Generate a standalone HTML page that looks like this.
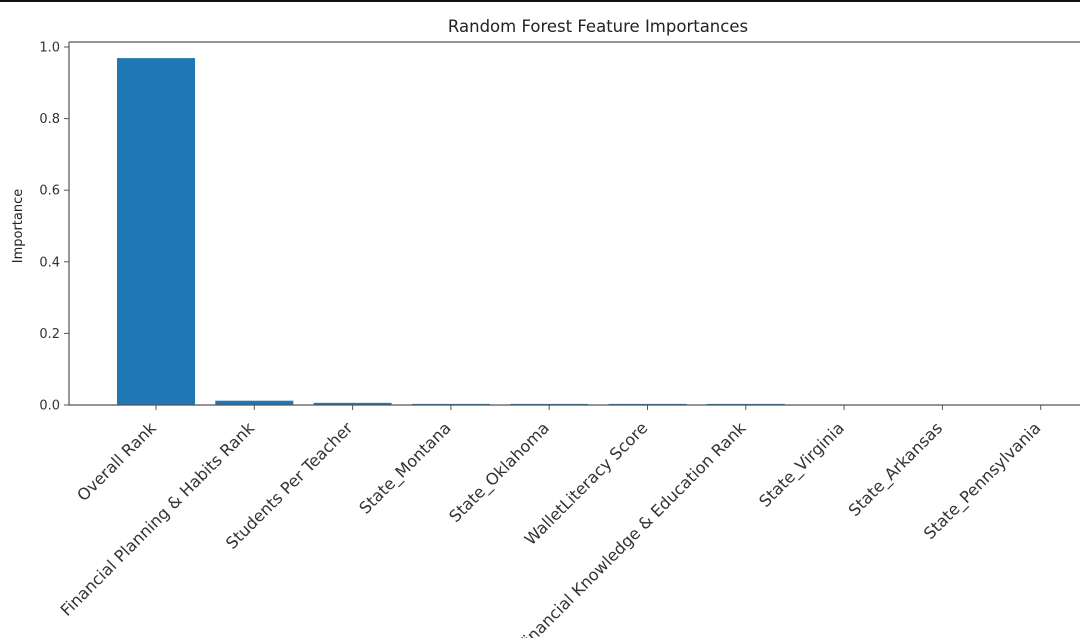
<!DOCTYPE html>
<html><head><meta charset="utf-8">
<style>
html,body{margin:0;padding:0;background:#fff;}
svg{display:block;font-family:"DejaVu Sans","Liberation Sans",sans-serif;}
</style></head>
<body>
<svg id="chart" width="1080" height="638" viewBox="0 0 1080 638">
<rect x="0" y="0" width="1080" height="2" fill="#111"/>
<text x="598" y="32" text-anchor="middle" font-size="16.5" fill="#222">Random Forest Feature Importances</text>
<text transform="translate(22,226) rotate(-90)" text-anchor="middle" font-size="13" fill="#222">Importance</text>
<g id="bars"></g>
<g id="yticks"></g>
<g id="xticks"></g>
<line x1="69" y1="42" x2="1080" y2="42" stroke="#555" stroke-width="1.2"/>
<line x1="69" y1="42" x2="69" y2="405" stroke="#555" stroke-width="1.2"/>
<line x1="69" y1="405" x2="1080" y2="405" stroke="#555" stroke-width="1.2"/>
</svg>
<script>
const categories = ["Overall Rank","Financial Planning & Habits Rank","Students Per Teacher","State_Montana","State_Oklahoma","WalletLiteracy Score","Financial Knowledge & Education Rank","State_Virginia","State_Arkansas","State_Pennsylvania"];
const importances = [0.969, 0.012, 0.006, 0.003, 0.003, 0.003, 0.003, 0.0005, 0.0003, 0.0002];
const yTickValues = [0.0, 0.2, 0.4, 0.6, 0.8, 1.0];
const yTickLabels = ["0.0","0.2","0.4","0.6","0.8","1.0"];

const NS = "http://www.w3.org/2000/svg";
const y0 = 405, yPerUnit = 358;
function yScale(v){ return y0 - v*yPerUnit; }
function xScale(i){ return 156 + i*98.3; }
const barW = 78;

const gb = document.getElementById('bars');
importances.forEach((v,i)=>{
  const r = document.createElementNS(NS,'rect');
  r.setAttribute('x', xScale(i)-barW/2);
  r.setAttribute('y', yScale(v));
  r.setAttribute('width', barW);
  r.setAttribute('height', Math.max(0, y0 - yScale(v)));
  r.setAttribute('fill', '#1f77b4');
  
  
  gb.appendChild(r);
});

const gy = document.getElementById('yticks');
yTickValues.forEach((v,i)=>{
  const y = yScale(v);
  const l = document.createElementNS(NS,'line');
  l.setAttribute('x1',64); l.setAttribute('x2',69);
  l.setAttribute('y1',y); l.setAttribute('y2',y);
  l.setAttribute('stroke','#555');
  
  
  gy.appendChild(l);
  const t = document.createElementNS(NS,'text');
  t.setAttribute('x',60); t.setAttribute('y',y+4.5);
  t.setAttribute('text-anchor','end');
  t.setAttribute('font-size','13');
  t.setAttribute('fill','#333');
  t.textContent = yTickLabels[i];
  
  
  gy.appendChild(t);
});

const gx = document.getElementById('xticks');
categories.forEach((c,i)=>{
  const x = xScale(i);
  const l = document.createElementNS(NS,'line');
  l.setAttribute('x1',x); l.setAttribute('x2',x);
  l.setAttribute('y1',405); l.setAttribute('y2',410);
  l.setAttribute('stroke','#555');
  
  
  gx.appendChild(l);
  const t = document.createElementNS(NS,'text');
  t.setAttribute('transform','translate('+(x+1)+',429) rotate(-45)');
  t.setAttribute('text-anchor','end');
  t.setAttribute('font-size','16.2');
  t.setAttribute('fill','#333');
  t.textContent = c;
  
  
  gx.appendChild(t);
});
</script>
</body></html>
